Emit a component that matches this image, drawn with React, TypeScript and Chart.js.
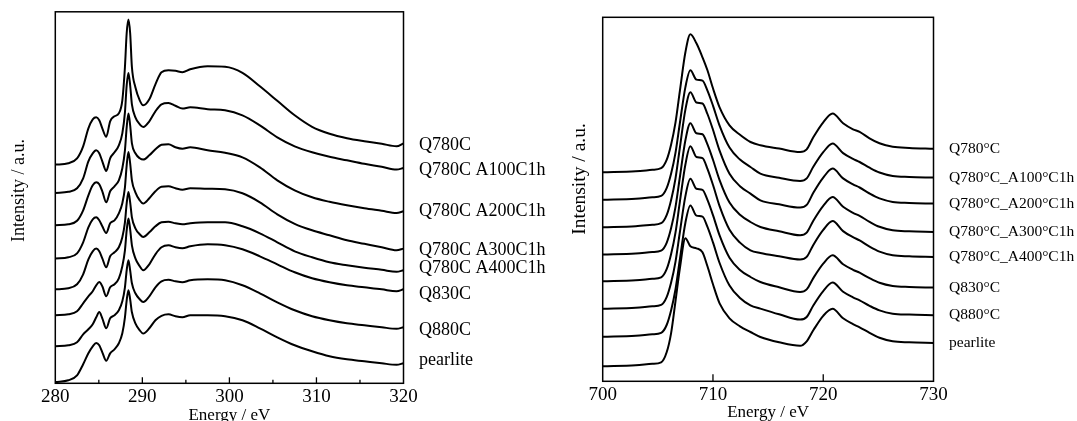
import React, { useEffect, useRef } from 'react';
import { Chart, registerables } from 'chart.js';

Chart.register(...registerables);

const FONT = "'Liberation Serif', 'Times New Roman', Times, serif";

// ---------- Left panel: C K-edge ----------
const energyC = [280, 281.5, 282.5, 283.2, 283.8, 284.3, 284.7, 285.05, 285.4, 285.85, 286.3, 286.8, 287.3, 287.7, 288.0, 288.2, 288.4, 288.6, 288.8, 289.2, 289.7, 290.1, 290.8, 291.5, 292.2, 293.0, 293.8, 294.6, 295.5, 297.5, 299.5, 301.5, 303.5, 305.5, 307.5, 309.5, 311.5, 313.5, 315.5, 317.5, 319.2, 320];

const cQ780 = [218.7, 220, 225, 237, 255, 264, 266, 263, 255, 246.5, 262, 267, 270, 283, 316.3, 350, 363.7, 350, 316.3, 296, 283, 278, 284, 299, 311, 313, 312.5, 311, 314, 317, 316.5, 310.5, 297, 282.5, 268, 256.5, 249.5, 245, 242, 239.5, 237, 240];
const cA100 = [190.3, 191.5, 195, 205, 222, 230, 233, 230, 222, 212.3, 225, 231, 238, 250, 271, 298, 310.3, 298, 279, 266, 259, 256.3, 262, 272, 279, 280.3, 277.5, 274.7, 276, 274, 273, 268, 258, 246, 237, 231, 226.5, 223, 219.5, 216.5, 213.7, 215.3];
const cA200 = [158, 159, 162.5, 173, 188, 198, 201, 199, 192, 181, 192, 197, 203, 215, 233, 256, 269.7, 258, 240, 230, 225, 223.7, 228, 234, 238.5, 239, 236, 234.5, 236, 233, 230.5, 226, 216, 203, 193, 186, 181.5, 178, 175, 172.5, 170.3, 172];
const cA300 = [124.7, 126, 130, 141, 156, 164, 166, 163, 157, 150.3, 160, 163, 170, 180, 196, 218, 231.3, 220, 203, 191, 183, 179.7, 185, 192, 196.5, 197, 195, 193.5, 195, 194.5, 194, 190, 181, 169, 159.5, 153, 148, 143, 139.5, 136, 133, 134.7];
const cA400 = [94, 95, 99, 109, 124, 132, 134.7, 132, 125, 116, 127, 131, 136, 146, 161, 180, 191.3, 181, 166, 155, 149, 146.3, 151, 157, 161, 161.5, 160, 159, 160, 161, 161, 157, 150, 141, 132, 126, 121, 118, 115.5, 113.5, 111.5, 113];
const cQ830 = [68, 69, 72, 80, 87, 92, 98, 101.3, 97, 87, 96, 99, 105, 117, 133, 153, 164.7, 154, 138, 125, 117, 113, 119, 129, 136, 138, 136, 135, 137, 139, 138, 134, 127, 119, 111, 105, 101, 98, 96, 94, 92, 94];
const cQ880 = [37, 38, 41, 49, 54, 59, 66, 71.3, 65, 55, 65, 68, 73, 82, 96, 113, 123, 113, 100, 90, 84, 81.3, 87, 96, 102, 103.5, 102, 101, 103, 104, 103, 98, 90, 81, 73, 67, 63, 60, 58, 56, 54.5, 56];
const cPearlite = [1.3, 3, 8, 19, 30, 37, 40.3, 38, 31, 22.5, 30, 34, 40, 50, 66, 83, 93, 84, 71, 60, 53, 49.7, 55, 63, 67.5, 69, 67, 66, 68, 68, 67, 63, 55, 46, 38, 32, 27, 24, 22, 20, 18.5, 20];

const namesC = ['Q780C', 'Q780C A100C1h', 'Q780C A200C1h', 'Q780C A300C1h', 'Q780C A400C1h', 'Q830C', 'Q880C', 'pearlite'];
const tickLabelsC = [280, 290, 300, 310, 320];

// ---------- Right panel: Fe L-edge ----------
const energyFe = [700, 703, 704.5, 705.3, 705.8, 706.2, 706.6, 707.0, 707.5, 707.95, 708.5, 709.05, 709.5, 710.0, 710.6, 711.5, 712.45, 713.4, 714.3, 716.0, 717.9, 718.5, 719.1, 720.0, 720.85, 721.8, 722.7, 723.3, 724.2, 725.1, 726.3, 727.8, 730];

const feQ780 = [209, 210, 211.5, 213.1, 221.4, 236.6, 258.7, 290.4, 329, 347, 338, 324, 311, 293, 274, 256, 246.5, 239.3, 236, 232.7, 229.3, 232, 244, 259, 267.7, 258, 252, 249.5, 243, 238, 234.5, 233.3, 232.5];
const feA100 = [181.5, 182.5, 184, 185.4, 193.2, 207.5, 228.4, 258.3, 294.2, 311, 301.7, 300.7, 290.7, 275.7, 255.7, 233.7, 221.7, 214.3, 207.7, 203.5, 200.3, 202.9, 214.5, 229.1, 237.7, 228.2, 222.4, 219.3, 213.6, 208.8, 205.4, 204.4, 203.7];
const feA200 = [154, 155, 156.5, 158.1, 166.2, 181.1, 202.7, 233.8, 271.7, 289, 278.8, 277.8, 267.3, 251.6, 230.7, 207.6, 195.1, 187.7, 181, 177, 173.7, 176.4, 188.5, 203.7, 212.7, 202.9, 196.9, 193.8, 187.8, 182.9, 179.4, 178.4, 177.7];
const feA300 = [126.7, 127.7, 129.2, 130.6, 138.5, 153, 174.1, 204.3, 241, 258, 248.1, 247.1, 236.9, 221.6, 201.2, 178.7, 166.5, 159.3, 154.3, 150, 146, 148.7, 160.6, 175.5, 184.3, 174.5, 168.5, 165.4, 159.5, 154.5, 151, 150, 149.3];
const feA400 = [100, 101, 102.5, 104, 112.1, 127, 148.6, 179.6, 216.8, 235, 224.3, 223.2, 212.5, 196.5, 175.1, 151.5, 138.7, 131, 128.3, 125, 121.7, 124.4, 136.4, 151.4, 160.3, 150.2, 144.1, 140.9, 134.7, 129.7, 126.1, 125, 124.3];
const feQ830 = [72.5, 73.5, 75, 76.4, 84.2, 98.5, 119.4, 149.3, 185.2, 202.5, 192.6, 191.5, 181.4, 166.2, 145.9, 123.5, 111.3, 104.3, 99.3, 94, 89.3, 91.9, 103.2, 117.6, 126, 117, 111.5, 108.6, 103.1, 98.5, 95.3, 94.3, 93.7];
const feQ880 = [44.5, 45.5, 47, 48.4, 56.3, 70.8, 91.8, 122.1, 158.6, 175.8, 165.7, 164.7, 154.4, 138.9, 118.3, 95.7, 83.3, 76, 72.7, 67, 61.7, 64.3, 75.8, 90.2, 98.7, 89.5, 84, 81, 75.5, 70.9, 67.6, 66.7, 66];
const fePearlite = [15, 16, 17.5, 19, 29, 48, 80, 113, 143, 135, 133, 129, 115, 97, 78, 63, 55, 49.3, 44.3, 39, 35.5, 40, 51, 65.5, 72.5, 63, 57.2, 54, 48.5, 43.5, 40, 39, 38.3];

const namesFe = ['Q780°C', 'Q780°C_A100°C1h', 'Q780°C_A200°C1h', 'Q780°C_A300°C1h', 'Q780°C_A400°C1h', 'Q830°C', 'Q880°C', 'pearlite'];
const tickLabelsFe = [700, 710, 720, 730];

type Panel = {
  energy: number[];
  series: number[][];
  names: string[];
  xMin: number;
  xMax: number;
  xStep: number;
  xLabels: number[];
  yMax: number;
  padding: { left: number; right: number; top: number; bottom: number };
  axisHeight: number;
  tickFont: number;
  titleFont: number;
  yTitle: { x: number; y: number; size: number };
  labelX: number;
  labelFont: number;
  labelShift: number[];
  majorTick: number;
  minorTick: number;
};

const leftPanel: Panel = {
  energy: energyC,
  series: [cQ780, cA100, cA200, cA300, cA400, cQ830, cQ880, cPearlite],
  names: namesC,
  xMin: 280,
  xMax: 320,
  xStep: 5,
  xLabels: tickLabelsC,
  yMax: 371.5,
  padding: { left: 55.3, right: 156.5, top: 11.8, bottom: 14.7 },
  axisHeight: 42,
  tickFont: 19,
  titleFont: 17,
  yTitle: { x: 19, y: 190.5, size: 18 },
  labelX: 419,
  labelFont: 18,
  labelShift: [1.5, 2.5, 0, 2, -2, 4.5, 2.5, -3.5],
  majorTick: 6,
  minorTick: 3.5,
};

const rightPanel: Panel = {
  energy: energyFe,
  series: [feQ780, feA100, feA200, feA300, feA400, feQ830, feQ880, fePearlite],
  names: namesFe,
  xMin: 700,
  xMax: 730,
  xStep: 10,
  xLabels: tickLabelsFe,
  yMax: 364,
  padding: { left: 62.7, right: 143.5, top: 17.3, bottom: 17.2 },
  axisHeight: 41.5,
  tickFont: 19,
  titleFont: 17,
  yTitle: { x: 39.6, y: 179, size: 19.5 },
  labelX: 409,
  labelFont: 15.5,
  labelShift: [0, 0, 0, 0, 0, 0, 0, 0],
  majorTick: 7,
  minorTick: 7,
};

function buildChart(canvas: HTMLCanvasElement, p: Panel) {
  const datasets = p.series.map((s, i) => ({
    label: p.names[i],
    data: s.map((v, j) => ({ x: p.energy[j], y: v })),
    borderColor: '#000',
    borderWidth: 2,
    pointRadius: 0,
    fill: false,
    cubicInterpolationMode: 'monotone' as const,
  }));

  const decor = {
    id: 'decor',
    afterDraw(chart: any) {
      const { ctx, chartArea: a, scales } = chart;
      const xs = scales.x;
      const ys = scales.y;
      ctx.save();
      ctx.strokeStyle = '#000';
      ctx.lineWidth = 1.5;
      ctx.strokeRect(a.left, a.top, a.right - a.left, a.bottom - a.top);
      ctx.lineWidth = 1.3;
      xs.ticks.forEach((t: any) => {
        if (t.value <= p.xMin || t.value >= p.xMax) return;
        const x = xs.getPixelForValue(t.value);
        const len = p.xLabels.includes(t.value) ? p.majorTick : p.minorTick;
        ctx.beginPath();
        ctx.moveTo(x, a.bottom);
        ctx.lineTo(x, a.bottom - len);
        ctx.stroke();
      });
      ctx.fillStyle = '#000';
      ctx.font = `${p.labelFont}px ${FONT}`;
      ctx.textAlign = 'left';
      ctx.textBaseline = 'middle';
      p.series.forEach((s, i) => {
        const y = ys.getPixelForValue(s[s.length - 1]) + p.labelShift[i];
        ctx.fillText(p.names[i], p.labelX, y);
      });
      ctx.translate(p.yTitle.x, p.yTitle.y);
      ctx.rotate(-Math.PI / 2);
      ctx.font = `${p.yTitle.size}px ${FONT}`;
      ctx.textAlign = 'center';
      ctx.fillText('Intensity / a.u.', 0, 0);
      ctx.restore();
    },
  };

  return new Chart(canvas, {
    type: 'line',
    data: { datasets },
    options: {
      animation: false,
      responsive: false,
      devicePixelRatio: 1,
      events: [],
      layout: { padding: p.padding },
      plugins: { legend: { display: false }, tooltip: { enabled: false } },
      scales: {
        x: {
          type: 'linear',
          min: p.xMin,
          max: p.xMax,
          grid: { display: false, drawTicks: false },
          border: { display: false },
          ticks: {
            stepSize: p.xStep,
            autoSkip: false,
            maxRotation: 0,
            padding: 2,
            color: '#000',
            font: { family: FONT, size: p.tickFont },
            callback: (v: any) => (p.xLabels.includes(Number(v)) ? String(v) : ''),
          },
          title: {
            display: true,
            text: 'Energy / eV',
            color: '#000',
            font: { family: FONT, size: p.titleFont },
            padding: 0,
          },
          afterFit: (scale: any) => {
            scale.height = p.axisHeight;
          },
        },
        y: { type: 'linear', display: false, min: 0, max: p.yMax },
      },
    } as any,
    plugins: [decor],
  });
}

export default function App() {
  const leftRef = useRef<HTMLCanvasElement>(null);
  const rightRef = useRef<HTMLCanvasElement>(null);

  useEffect(() => {
    const a = buildChart(leftRef.current as HTMLCanvasElement, leftPanel);
    const b = buildChart(rightRef.current as HTMLCanvasElement, rightPanel);
    return () => {
      a.destroy();
      b.destroy();
    };
  }, []);

  return (
    <div style={{ position: 'fixed', left: 0, top: 0, width: 1077, height: 421, overflow: 'hidden', background: '#fff' }}>
      <canvas ref={leftRef} width={560} height={440} style={{ position: 'absolute', left: 0, top: 0 }} />
      <canvas ref={rightRef} width={537} height={440} style={{ position: 'absolute', left: 540, top: 0 }} />
    </div>
  );
}
